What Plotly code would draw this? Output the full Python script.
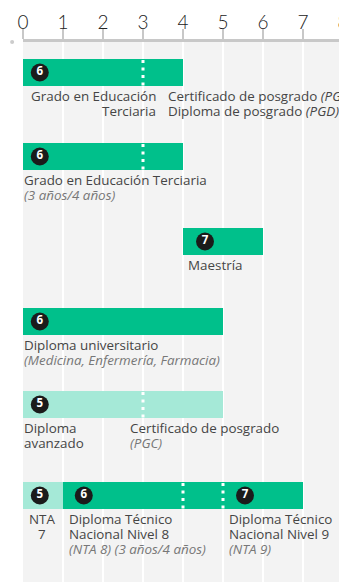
import plotly.graph_objects as go

# years axis
years = list(range(0, 9))

# rows (pixel offset of row centre below the axis, bar thickness 27)
row_pos = [30.5, 114.5, 199.5, 279.5, 362.5, 453.5]
bar_h = 27

# bar segments
seg_row = [0, 1, 2, 3, 4, 5, 5]
seg_start = [0, 0, 4, 0, 0, 0, 1]
seg_end = [4, 4, 6, 5, 5, 1, 7]
seg_light = [False, False, False, False, True, True, False]

# dotted dividers inside bars
div_row = [0, 1, 4, 5, 5]
div_x = [3, 3, 3, 4, 5]

# level badges
badge_row = [0, 1, 2, 3, 4, 5, 5, 5]
badge_x = [0.42, 0.42, 4.55, 0.42, 0.42, 0.42, 1.52, 5.55]
badge_num = ["6", "6", "7", "6", "5", "5", "6", "7"]

# labels: row, x, anchor, lines (italic lines marked with <i>)
labels = [
    (0, 3.35, "right", ["Grado en Educación", "Terciaria"]),
    (0, 3.6, "left", ["Certificado de posgrado <i>(PGC)</i>", "Diploma de posgrado <i>(PGD)</i>"]),
    (1, 0, "left", ["Grado en Educación Terciaria", "<i>(3 años/4 años)</i>"]),
    (2, 4.1, "left", ["Maestría"]),
    (3, 0, "left", ["Diploma universitario", "<i>(Medicina, Enfermería, Farmacia)</i>"]),
    (4, 0, "left", ["Diploma", "avanzado"]),
    (4, 2.65, "left", ["Certificado de posgrado", "<i>(PGC)</i>"]),
    (5, 0.47, "center", ["NTA", "7"]),
    (5, 1.13, "left", ["Diploma Técnico", "Nacional Nivel 8", "<i>(NTA 8) (3 años/4 años)</i>"]),
    (5, 5.13, "left", ["Diploma Técnico", "Nacional Nivel 9", "<i>(NTA 9)</i>"]),
]

DARK = "#00c08b"
LIGHT = "#a5e9d7"
FONT = "Open Sans"

fig = go.Figure()

fig.add_trace(go.Bar(
    orientation="h",
    base=seg_start,
    x=[e - s for s, e in zip(seg_start, seg_end)],
    y=[row_pos[r] for r in seg_row],
    width=bar_h,
    marker=dict(color=[LIGHT if l else DARK for l in seg_light], line=dict(width=0)),
    hoverinfo="skip",
))

fig.add_trace(go.Scatter(
    x=badge_x,
    y=[row_pos[r] for r in badge_row],
    mode="markers+text",
    marker=dict(size=18, color="#1b1b1b", line=dict(width=0)),
    text=badge_num,
    textposition="middle center",
    textfont=dict(family=FONT, size=11.5, color="white", weight="bold"),
    hoverinfo="skip",
))

for r, x in zip(div_row, div_x):
    fig.add_shape(type="line", x0=x, x1=x,
                  y0=row_pos[r] - bar_h / 2 + 1, y1=row_pos[r] + bar_h / 2,
                  line=dict(color="white", width=3, dash="3px,4.5px"))

for r, x, anchor, lines in labels:
    top = row_pos[r] + bar_h / 2 + 10
    for i, line in enumerate(lines):
        italic = line.startswith("<i>")
        fig.add_annotation(
            x=x, y=top + i * 15, text=line, showarrow=False,
            xanchor=anchor, yanchor="middle", align=anchor, borderpad=0,
            font=dict(family=FONT, size=13.4, color="#777777" if italic else "#454545"),
        )

# small dot left of the axis
fig.add_shape(type="circle", xref="paper", yref="paper",
              xsizemode="pixel", ysizemode="pixel",
              xanchor=-0.034, yanchor=1.0,
              x0=-2, x1=2, y0=-2, y1=2,
              fillcolor="#cccccc", line=dict(width=0))

# page body has an 8px margin, so the figure is sized to fit inside it
fig.update_layout(
    width=339, height=574,
    margin=dict(l=15, r=4, t=34, b=0, autoexpand=False),
    plot_bgcolor="#f3f3f3",
    paper_bgcolor="white",
    showlegend=False,
    bargap=0,
    xaxis=dict(
        range=[0, 8], side="top", tickvals=years, automargin=False,
        ticks="outside", ticklen=10, tickwidth=2, tickcolor="#c8c8c8",
        showline=True, linecolor="#c8c8c8", linewidth=3,
        showgrid=True, gridcolor="white", gridwidth=2,
        zeroline=False, fixedrange=True, ticklabelstandoff=-8,
        ticklabeloverflow="allow",
        tickfont=dict(family="Lato", size=19, color="#222222", weight=300),
    ),
    yaxis=dict(range=[540, 0], visible=False, showgrid=False, zeroline=False,
               fixedrange=True, automargin=False),
)

fig.write_html("out.html")
